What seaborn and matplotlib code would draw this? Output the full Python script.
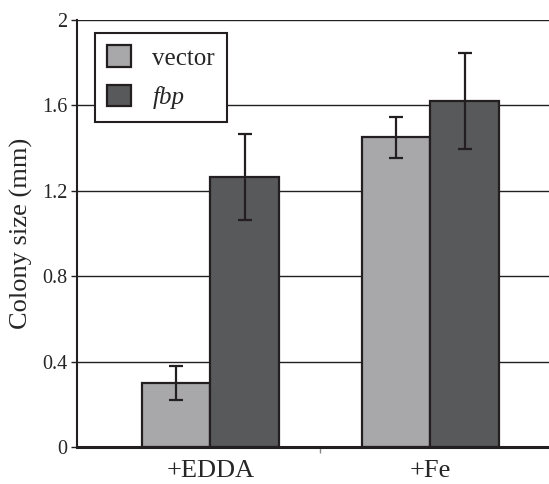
import pandas as pd
import numpy as np
import matplotlib.pyplot as plt
import seaborn as sns

# values
conditions = ['+EDDA', '+Fe']
strains = ['vector', 'fbp']
vector_mean = [0.30, 1.45]
vector_err = [0.08, 0.095]
fbp_mean = [1.265, 1.62]
fbp_err = [0.20, 0.225]
y_ticks = [0, 0.4, 0.8, 1.2, 1.6, 2]
y_tick_labels = ['0', '0.4', '0.8', '1.2', '1.6', '2']

df = pd.DataFrame({
    'condition': conditions * 2,
    'strain': ['vector'] * 2 + ['fbp'] * 2,
    'size': vector_mean + fbp_mean,
})
errs = {'vector': vector_err, 'fbp': fbp_err}

sns.set_style('white')
plt.rcParams['font.family'] = ['Liberation Serif', 'DejaVu Serif']

fig = plt.figure(figsize=(5.49, 4.84), dpi=100)
ax = fig.add_axes([0.140, 0.0764, 0.860, 0.8823])

ax.set_axisbelow(True)
ax.yaxis.grid(True, color='#231f20', linewidth=1.0)

sns.barplot(data=df, x='condition', y='size', hue='strain', hue_order=strains,
            order=conditions, palette=['#a7a8ac', '#58595b'], width=0.623, gap=0,
            edgecolor='#231f20', linewidth=1.6, errorbar=None, ax=ax)

for cont, s in zip(ax.containers, strains):
    xs = [b.get_x() + b.get_width() / 2 for b in cont]
    ys = [b.get_height() for b in cont]
    ax.errorbar(xs, ys, yerr=errs[s], fmt='none', ecolor='#231f20',
                elinewidth=1.6, capsize=5, capthick=1.6, zorder=5)

ax.set_xlim(-0.607, 1.539)
ax.set_ylim(0, 2)
ax.set_yticks(y_ticks)
ax.set_yticklabels(y_tick_labels)
ax.set_xticks([0, 1])
ax.set_xticklabels(conditions)
ax.set_xticks([0.5], minor=True)
ax.tick_params(axis='x', which='major', length=0, labelsize=19, pad=9)
ax.tick_params(axis='x', which='minor', length=4, width=1, color='#888888', direction='out', bottom=True)
ax.tick_params(axis='y', length=4, width=1, color='#231f20', direction='out', left=True, labelsize=14.5, pad=3)

ax.set_xlabel('')
ax.set_ylabel('Colony size (mm)', fontsize=19, labelpad=6)

for side in ['top', 'right']:
    ax.spines[side].set_visible(False)
ax.spines['left'].set_color('#231f20')
ax.spines['left'].set_linewidth(1.5)
ax.spines['bottom'].set_color('#231f20')
ax.spines['bottom'].set_linewidth(2.2)

handles, labels = ax.get_legend_handles_labels()
leg = ax.legend(handles, labels, loc='upper left', bbox_to_anchor=(0.038, 0.970),
                fontsize=18, frameon=True, fancybox=False, framealpha=1,
                edgecolor='#231f20', borderpad=0.5, handlelength=0.95, handleheight=0.95,
                handletextpad=0.85, labelspacing=0.6, borderaxespad=0)
leg.get_frame().set_linewidth(1.5)
leg.get_texts()[1].set_fontstyle('italic')

fig.savefig('out.png', dpi=100)
